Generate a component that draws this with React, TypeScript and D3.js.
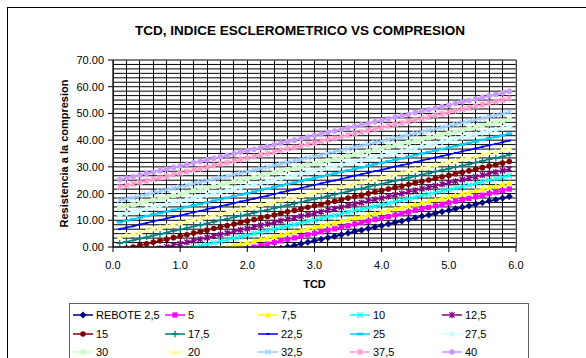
import React from 'react';
import * as d3 from 'd3';

const TCD = [0.1,0.2,0.3,0.4,0.5,0.6,0.7,0.8,0.9,1.0,1.1,1.2,1.3,1.4,1.5,1.6,1.7,1.8,1.9,2.0,2.1,2.2,2.3,2.4,2.5,2.6,2.7,2.8,2.9,3.0,3.1,3.2,3.3,3.4,3.5,3.6,3.7,3.8,3.9,4.0,4.1,4.2,4.3,4.4,4.5,4.6,4.7,4.8,4.9,5.0,5.1,5.2,5.3,5.4,5.5,5.6,5.7,5.8,5.9];

const R2_5 = [-14.2,-13.6,-13.1,-12.5,-11.9,-11.3,-10.8,-10.2,-9.6,-9.1,-8.5,-7.9,-7.4,-6.8,-6.2,-5.6,-5.1,-4.5,-3.9,-3.4,-2.8,-2.2,-1.7,-1.1,-0.5,0.1,0.6,1.2,1.8,2.3,2.9,3.5,4.0,4.6,5.2,5.8,6.3,6.9,7.5,8.0,8.6,9.2,9.7,10.3,10.9,11.5,12.0,12.6,13.2,13.7,14.3,14.9,15.4,16.0,16.6,17.2,17.7,18.3,18.9];
const R5 = [-11.4,-10.8,-10.3,-9.7,-9.1,-8.5,-8.0,-7.4,-6.8,-6.3,-5.7,-5.1,-4.6,-4.0,-3.4,-2.8,-2.3,-1.7,-1.1,-0.6,0.0,0.6,1.1,1.7,2.3,2.9,3.4,4.0,4.6,5.1,5.7,6.3,6.8,7.4,8.0,8.6,9.1,9.7,10.3,10.8,11.4,12.0,12.5,13.1,13.7,14.3,14.8,15.4,16.0,16.5,17.1,17.7,18.2,18.8,19.4,20.0,20.5,21.1,21.7];
const R7_5 = [-9.1,-8.5,-8.0,-7.4,-6.8,-6.2,-5.7,-5.1,-4.5,-4.0,-3.4,-2.8,-2.3,-1.7,-1.1,-0.5,0.0,0.6,1.2,1.7,2.3,2.9,3.4,4.0,4.6,5.2,5.7,6.3,6.9,7.4,8.0,8.6,9.1,9.7,10.3,10.9,11.4,12.0,12.6,13.1,13.7,14.3,14.8,15.4,16.0,16.6,17.1,17.7,18.3,18.8,19.4,20.0,20.5,21.1,21.7,22.3,22.8,23.4,24.0];
const R10 = [-6.4,-5.8,-5.3,-4.7,-4.1,-3.5,-3.0,-2.4,-1.8,-1.3,-0.7,-0.1,0.4,1.0,1.6,2.2,2.7,3.3,3.9,4.4,5.0,5.6,6.1,6.7,7.3,7.9,8.4,9.0,9.6,10.1,10.7,11.3,11.8,12.4,13.0,13.6,14.1,14.7,15.3,15.8,16.4,17.0,17.5,18.1,18.7,19.3,19.8,20.4,21.0,21.5,22.1,22.7,23.2,23.8,24.4,25.0,25.5,26.1,26.7];
const R12_5 = [-3.9,-3.3,-2.8,-2.2,-1.6,-1.0,-0.5,0.1,0.7,1.2,1.8,2.4,2.9,3.5,4.1,4.7,5.2,5.8,6.4,6.9,7.5,8.1,8.6,9.2,9.8,10.4,10.9,11.5,12.1,12.6,13.2,13.8,14.3,14.9,15.5,16.1,16.6,17.2,17.8,18.3,18.9,19.5,20.0,20.6,21.2,21.8,22.3,22.9,23.5,24.0,24.6,25.2,25.7,26.3,26.9,27.5,28.0,28.6,29.2];
const R15 = [-1.1,-0.5,0.0,0.6,1.2,1.8,2.3,2.9,3.5,4.0,4.6,5.2,5.7,6.3,6.9,7.5,8.0,8.6,9.2,9.7,10.3,10.9,11.4,12.0,12.6,13.2,13.7,14.3,14.9,15.4,16.0,16.6,17.1,17.7,18.3,18.9,19.4,20.0,20.6,21.1,21.7,22.3,22.8,23.4,24.0,24.6,25.1,25.7,26.3,26.8,27.4,28.0,28.5,29.1,29.7,30.3,30.8,31.4,32.0];
const R17_5 = [1.4,2.0,2.5,3.1,3.7,4.3,4.8,5.4,6.0,6.5,7.1,7.7,8.2,8.8,9.4,10.0,10.5,11.1,11.7,12.2,12.8,13.4,13.9,14.5,15.1,15.7,16.2,16.8,17.4,17.9,18.5,19.1,19.6,20.2,20.8,21.4,21.9,22.5,23.1,23.6,24.2,24.8,25.3,25.9,26.5,27.1,27.6,28.2,28.8,29.3,29.9,30.5,31.0,31.6,32.2,32.8,33.3,33.9,34.5];
const R20 = [3.9,4.5,5.0,5.6,6.2,6.8,7.3,7.9,8.5,9.0,9.6,10.2,10.7,11.3,11.9,12.5,13.0,13.6,14.2,14.7,15.3,15.9,16.4,17.0,17.6,18.2,18.7,19.3,19.9,20.4,21.0,21.6,22.1,22.7,23.3,23.9,24.4,25.0,25.6,26.1,26.7,27.3,27.8,28.4,29.0,29.6,30.1,30.7,31.3,31.8,32.4,33.0,33.5,34.1,34.7,35.3,35.8,36.4,37.0];
const R22_5 = [6.7,7.3,7.8,8.4,9.0,9.6,10.1,10.7,11.3,11.8,12.4,13.0,13.5,14.1,14.7,15.3,15.8,16.4,17.0,17.5,18.1,18.7,19.2,19.8,20.4,21.0,21.5,22.1,22.7,23.2,23.8,24.4,24.9,25.5,26.1,26.7,27.2,27.8,28.4,28.9,29.5,30.1,30.6,31.2,31.8,32.4,32.9,33.5,34.1,34.6,35.2,35.8,36.3,36.9,37.5,38.1,38.6,39.2,39.8];
const R25 = [9.3,9.9,10.4,11.0,11.6,12.2,12.7,13.3,13.9,14.4,15.0,15.6,16.1,16.7,17.3,17.9,18.4,19.0,19.6,20.1,20.7,21.3,21.8,22.4,23.0,23.6,24.1,24.7,25.3,25.8,26.4,27.0,27.5,28.1,28.7,29.3,29.8,30.4,31.0,31.5,32.1,32.7,33.2,33.8,34.4,35.0,35.5,36.1,36.7,37.2,37.8,38.4,38.9,39.5,40.1,40.7,41.2,41.8,42.4];
const R27_5 = [12.0,12.6,13.1,13.7,14.3,14.9,15.4,16.0,16.6,17.1,17.7,18.3,18.8,19.4,20.0,20.6,21.1,21.7,22.3,22.8,23.4,24.0,24.5,25.1,25.7,26.3,26.8,27.4,28.0,28.5,29.1,29.7,30.2,30.8,31.4,32.0,32.5,33.1,33.7,34.2,34.8,35.4,35.9,36.5,37.1,37.7,38.2,38.8,39.4,39.9,40.5,41.1,41.6,42.2,42.8,43.4,43.9,44.5,45.1];
const R30 = [14.7,15.3,15.8,16.4,17.0,17.6,18.1,18.7,19.3,19.8,20.4,21.0,21.5,22.1,22.7,23.3,23.8,24.4,25.0,25.5,26.1,26.7,27.2,27.8,28.4,29.0,29.5,30.1,30.7,31.2,31.8,32.4,32.9,33.5,34.1,34.7,35.2,35.8,36.4,36.9,37.5,38.1,38.6,39.2,39.8,40.4,40.9,41.5,42.1,42.6,43.2,43.8,44.3,44.9,45.5,46.1,46.6,47.2,47.8];
const R32_5 = [17.4,18.0,18.5,19.1,19.7,20.3,20.8,21.4,22.0,22.5,23.1,23.7,24.2,24.8,25.4,26.0,26.5,27.1,27.7,28.2,28.8,29.4,29.9,30.5,31.1,31.7,32.2,32.8,33.4,33.9,34.5,35.1,35.6,36.2,36.8,37.4,37.9,38.5,39.1,39.6,40.2,40.8,41.3,41.9,42.5,43.1,43.6,44.2,44.8,45.3,45.9,46.5,47.0,47.6,48.2,48.8,49.3,49.9,50.5];
const R37_5 = [22.5,23.1,23.6,24.2,24.8,25.4,25.9,26.5,27.1,27.6,28.2,28.8,29.3,29.9,30.5,31.1,31.6,32.2,32.8,33.3,33.9,34.5,35.0,35.6,36.2,36.8,37.3,37.9,38.5,39.0,39.6,40.2,40.7,41.3,41.9,42.5,43.0,43.6,44.2,44.7,45.3,45.9,46.4,47.0,47.6,48.2,48.7,49.3,49.9,50.4,51.0,51.6,52.1,52.7,53.3,53.9,54.4,55.0,55.6];
const R40 = [25.2,25.8,26.3,26.9,27.5,28.1,28.6,29.2,29.8,30.3,30.9,31.5,32.0,32.6,33.2,33.8,34.3,34.9,35.5,36.0,36.6,37.2,37.7,38.3,38.9,39.5,40.0,40.6,41.2,41.7,42.3,42.9,43.4,44.0,44.6,45.2,45.7,46.3,46.9,47.4,48.0,48.6,49.1,49.7,50.3,50.9,51.4,52.0,52.6,53.1,53.7,54.3,54.8,55.4,56.0,56.6,57.1,57.7,58.3];

const SERIES_NAMES = ['REBOTE 2,5', '5', '7,5', '10', '12,5', '15', '17,5', '22,5', '25', '27,5', '30', '20', '32,5', '37,5', '40'];
const SERIES_VALUES = [R2_5, R5, R7_5, R10, R12_5, R15, R17_5, R22_5, R25, R27_5, R30, R20, R32_5, R37_5, R40];

const Y_TICKS = [0, 10, 20, 30, 40, 50, 60, 70];
const X_TICKS = [0, 1, 2, 3, 4, 5, 6];

const TITLE = 'TCD, INDICE ESCLEROMETRICO VS COMPRESION';
const X_TITLE = 'TCD';
const Y_TITLE = 'Resistencia a la compresion';

const COLORS = ['#000080', '#FF00FF', '#FFFF00', '#00FFFF', '#800080', '#800000', '#008080', '#0000FF', '#00CCFF', '#CCFFFF', '#CCFFCC', '#FFFF99', '#99CCFF', '#FF99CC', '#CC99FF'];
const MARKERS = ['diamond', 'square', 'triangle', 'x', 'star', 'circle', 'plus', 'dash', 'longdash', 'diamond', 'square', 'triangle', 'x', 'star', 'circle'];

const FONT = 'Arial, "Liberation Sans", sans-serif';

function Marker({ type, x, y, color }: { type: string; x: number; y: number; color: string }) {
  const t = `translate(${x},${y})`;
  switch (type) {
    case 'diamond':
      return <path transform={t} d="M0,-3.2L3.2,0L0,3.2L-3.2,0Z" fill={color} stroke={color} strokeWidth={0.6} />;
    case 'square':
      return <rect transform={t} x={-2.6} y={-2.6} width={5.2} height={5.2} fill={color} />;
    case 'triangle':
      return <path transform={t} d="M0,-3.2L3.2,2.6L-3.2,2.6Z" fill={color} />;
    case 'x':
      return <path transform={t} d="M-2.6,-2.6L2.6,2.6M-2.6,2.6L2.6,-2.6" stroke={color} strokeWidth={1.3} fill="none" />;
    case 'star':
      return <path transform={t} d="M-2.6,-2.6L2.6,2.6M-2.6,2.6L2.6,-2.6M0,-3.2L0,3.2" stroke={color} strokeWidth={1.3} fill="none" />;
    case 'circle':
      return <circle cx={x} cy={y} r={2.8} fill={color} />;
    case 'plus':
      return <path transform={t} d="M-3.2,0L3.2,0M0,-3.2L0,3.2" stroke={color} strokeWidth={1.3} fill="none" />;
    case 'dash':
      return <path transform={t} d="M-1.5,0L1.5,0" stroke={color} strokeWidth={2} fill="none" />;
    case 'longdash':
      return <path transform={t} d="M-3,0L3,0" stroke={color} strokeWidth={2.6} fill="none" />;
    default:
      return null;
  }
}

export default function App() {
  const W = 586, H = 358;
  const left = 113, right = 516, top = 60, bottom = 247;
  const x = d3.scaleLinear().domain([0, 6]).range([left, right]);
  const y = d3.scaleLinear().domain([0, 70]).range([bottom, top]);

  const vGrid = d3.range(0, 30.5, 1).map((k) => k * 0.2);
  const hGrid = d3.range(0, 42.5, 1).map((k) => (k * 10) / 6);

  const line = d3.line<number>().x((_, i) => x(TCD[i])).y((d) => y(d));

  const legendCols = [73, 165, 258, 350, 442];
  const legendRows = [315, 334, 352];

  return (
    <svg width={W} height={H} style={{ position: 'absolute', left: 0, top: 0, background: '#fff' }} fontFamily={FONT}>
      <defs>
        <clipPath id="plotclip">
          <rect x={left} y={top} width={right - left} height={bottom - top} />
        </clipPath>
      </defs>
      <rect x={7.5} y={7.5} width={620} height={400} fill="#fff" stroke="#000" strokeWidth={1} />
      <text x={300} y={35} textAnchor="middle" fontSize={13.5} fontWeight="bold" fill="#000">{TITLE}</text>

      <rect x={left} y={top} width={right - left} height={bottom - top} fill="#fff" />
      {hGrid.map((v, i) => (
        <line key={'h' + i} x1={left} x2={right} y1={y(v)} y2={y(v)} stroke="#000" strokeWidth={1} />
      ))}
      {vGrid.map((v, i) => (
        <line key={'v' + i} x1={x(v)} x2={x(v)} y1={top} y2={bottom} stroke="#000" strokeWidth={1} shapeRendering="crispEdges" />
      ))}
      <rect x={left} y={top} width={right - left} height={bottom - top} fill="none" stroke="#808080" strokeWidth={1} />

      <g clipPath="url(#plotclip)">
        {SERIES_VALUES.map((vals, si) => (
          <g key={'s' + si}>
            <path d={line(vals) || ''} fill="none" stroke={COLORS[si]} strokeWidth={1.5} />
            {vals.map((v, i) => (
              <Marker key={i} type={MARKERS[si]} x={x(TCD[i])} y={y(v)} color={COLORS[si]} />
            ))}
          </g>
        ))}
      </g>

      <line x1={left} x2={left} y1={top} y2={bottom} stroke="#000" />
      <line x1={left} x2={right} y1={bottom} y2={bottom} stroke="#000" />
      {Y_TICKS.map((t) => (
        <g key={'yt' + t}>
          <line x1={left - 5} x2={left} y1={y(t)} y2={y(t)} stroke="#000" />
          <text x={left - 9} y={y(t) + 4} textAnchor="end" fontSize={11} fill="#000">{t.toFixed(2)}</text>
        </g>
      ))}
      {X_TICKS.map((t) => (
        <g key={'xt' + t}>
          <line x1={x(t)} x2={x(t)} y1={bottom} y2={bottom + 5} stroke="#000" />
          <text x={x(t)} y={bottom + 22} textAnchor="middle" fontSize={11} fill="#000">{t.toFixed(1)}</text>
        </g>
      ))}
      <text x={(left + right) / 2} y={288} textAnchor="middle" fontSize={11} fontWeight="bold" fill="#000">{X_TITLE}</text>
      <text transform={`translate(68,${(top + bottom) / 2}) rotate(-90)`} textAnchor="middle" fontSize={11} fontWeight="bold" fill="#000">{Y_TITLE}</text>

      <rect x={69.5} y={303.5} width={459} height={80} fill="#fff" stroke="#606060" strokeWidth={1} />
      {SERIES_NAMES.map((name, i) => {
        const cx = legendCols[i % 5];
        const cy = legendRows[Math.floor(i / 5)];
        return (
          <g key={'l' + i}>
            <line x1={cx} x2={cx + 20} y1={cy} y2={cy} stroke={COLORS[i]} strokeWidth={1.5} />
            <Marker type={MARKERS[i]} x={cx + 10} y={cy} color={COLORS[i]} />
            <text x={cx + 23} y={cy + 4} fontSize={11} fill="#000">{name}</text>
          </g>
        );
      })}
    </svg>
  );
}
